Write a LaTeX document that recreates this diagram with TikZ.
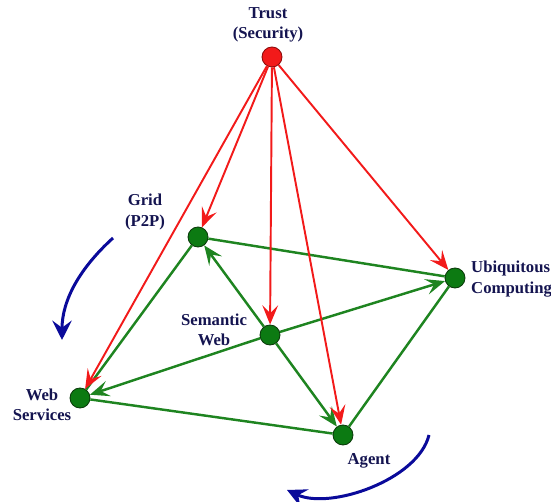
\documentclass[tikz,border=0pt]{standalone}
\usepackage{fontspec}
\setmainfont{Liberation Serif}
\usetikzlibrary{arrows.meta}
\definecolor{TrustRed}{HTML}{F21A1A}
\definecolor{TrustRim}{HTML}{8A0A0A}
\definecolor{LinkGreen}{HTML}{1E8420}
\definecolor{HubGreen}{HTML}{0C7A12}
\definecolor{HubRim}{HTML}{0A3A0A}
\definecolor{TurnBlue}{HTML}{0A0A9A}
\definecolor{LabelInk}{HTML}{141450}
\begin{document}
\begin{tikzpicture}[x=0.02cm,y=-0.02cm,
  every node/.style={text=LabelInk,font=\fontsize{9.5}{11.5}\selectfont\bfseries,align=center},
  hub/.style={circle,inner sep=0pt,minimum size=0.4cm,draw=HubRim,fill=HubGreen,line width=0.5pt},
  link/.style={LinkGreen,line width=1.4pt},
  feed/.style={link,-{Stealth[length=11pt,width=9pt,inset=4.5pt]}},
  secure/.style={TrustRed,line width=1.1pt,-{Stealth[length=11pt,width=9pt,inset=4.5pt]}},
  turn/.style={TurnBlue,line width=1.7pt,-{Stealth[length=11pt,width=11pt,inset=4pt]}}]
\useasboundingbox (0,0) rectangle (551,502);
% the six points
\node[hub,fill=TrustRed,draw=TrustRim] (trust) at (272,57) {};
\node[hub] (grid) at (198,237) {};
\node[hub] (ubi) at (455,278) {};
\node[hub] (sem) at (270,335) {};
\node[hub] (ws) at (80,398) {};
\node[hub] (agent) at (343,435) {};
\node (trustlbl) at (268,25) {Trust\\(Security)};
\node (gridlbl) at (145,212) {Grid\\(P2P)};
\node[anchor=west,align=left] (ubilbl) at (465,279) {Ubiquitous\\Computing};
\node (semlbl) at (214,330) {Semantic\\Web};
\node (wslbl) at (42,405) {Web\\Services};
\node (agentlbl) at (369,461) {Agent};
% green frame and links from the semantic web
\draw[link] (grid)--(ubi);
\draw[link] (grid)--(ws);
\draw[link] (ws)--(agent);
\draw[link] (agent)--(ubi);
\draw[feed] (sem)--(grid);
\draw[feed] (sem)--(ubi);
\draw[feed] (sem)--(ws);
\draw[feed] (sem)--(agent);
% trust reaches every layer
\draw[secure] (trust)--(grid);
\draw[secure] (trust)--(ws);
\draw[secure] (trust)--(sem);
\draw[secure] (trust)--(agent);
\draw[secure] (trust)--(ubi);
% rotation arrows
\coordinate (turnA) at (113,238);
\coordinate (turnB) at (62,340);
\coordinate (turnC) at (429,435);
\coordinate (turnD) at (287,490);
\draw[turn] (turnA) .. controls (80,268) and (62,300) .. (turnB);
\draw[turn] (turnC) .. controls (418,480) and (330,510) .. (turnD);
\end{tikzpicture}
\end{document}
